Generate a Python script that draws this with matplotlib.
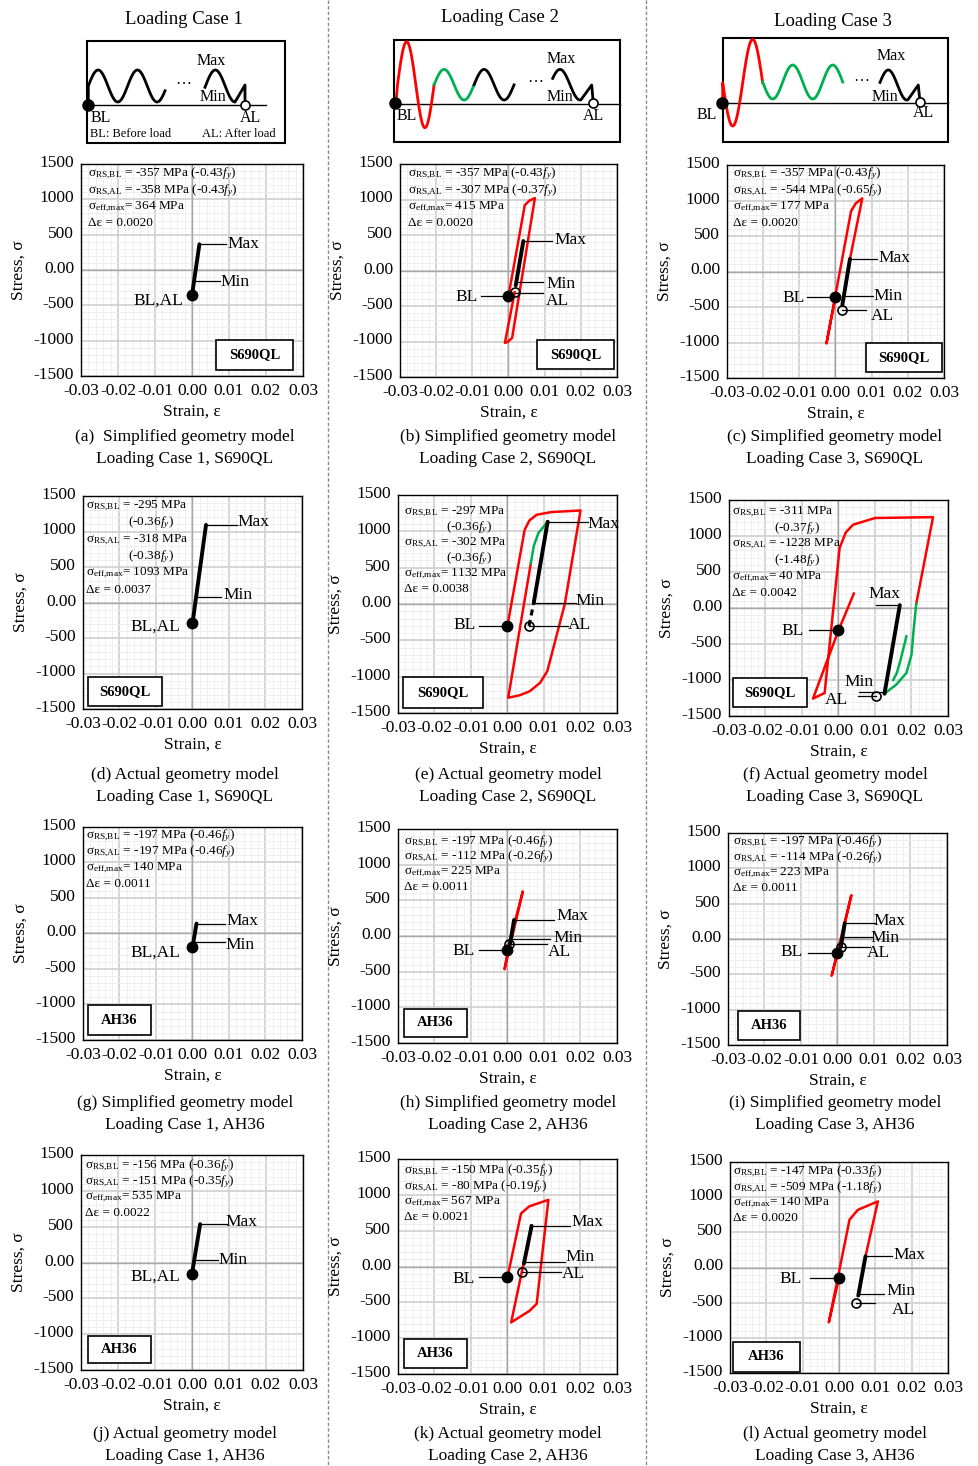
import numpy as np
import matplotlib
matplotlib.use('Agg')
import matplotlib.pyplot as plt
import matplotlib.transforms as mtransforms
from matplotlib.patches import Rectangle

plt.rcParams['font.family'] = ['Liberation Serif', 'DejaVu Serif']
plt.rcParams['mathtext.fontset'] = 'custom'
plt.rcParams['mathtext.rm'] = 'Liberation Serif'
plt.rcParams['mathtext.it'] = 'Liberation Serif:italic'
plt.rcParams['mathtext.bf'] = 'Liberation Serif:bold'
plt.rcParams['axes.unicode_minus'] = False

# ---------------- data ----------------
panels = list('abcdefghijkl')
models = ['Simplified'] * 3 + ['Actual'] * 3 + ['Simplified'] * 3 + ['Actual'] * 3
cases = [1, 2, 3] * 4
materials = ['S690QL'] * 6 + ['AH36'] * 6

rs_bl = [-357, -357, -357, -295, -297, -311, -197, -197, -197, -156, -150, -147]
rs_bl_fy = ['-0.43', '-0.43', '-0.43', '-0.36', '-0.36', '-0.37',
            '-0.46', '-0.46', '-0.46', '-0.36', '-0.35', '-0.33']
rs_al = [-358, -307, -544, -318, -302, -1228, -197, -112, -114, -151, -80, -509]
rs_al_fy = ['-0.43', '-0.37', '-0.65', '-0.38', '-0.36', '-1.48',
            '-0.46', '-0.26', '-0.26', '-0.35', '-0.19', '-1.18']
eff_max = [364, 415, 177, 1093, 1132, 40, 140, 225, 223, 535, 567, 140]
d_eps = ['0.0020', '0.0020', '0.0020', '0.0037', '0.0038', '0.0042',
         '0.0011', '0.0011', '0.0011', '0.0022', '0.0021', '0.0020']
al_eps = [0.0, 0.0017, 0.0017, 0.0, 0.0059, 0.0104, 0.0, 0.0004, 0.0010, 0.0, 0.0039, 0.0048]

xticks = [-0.03, -0.02, -0.01, 0.0, 0.01, 0.02, 0.03]
xtick_labels = ['-0.03', '-0.02', '-0.01', '0.00', '0.01', '0.02', '0.03']
yticks = [-1500, -1000, -500, 0, 500, 1000, 1500]
ytick_labels = ['-1500', '-1000', '-500', '0.00', '500', '1000', '1500']

# first cycle (red), strain / stress
red_b = [[0.0, 0.0045, 0.0058, 0.0073, 0.0010, -0.0002, -0.0010, 0.0017],
         [-357, 920, 985, 1020, -950, -1005, -1020, -307]]
red_c = [[0.0, -0.0025, 0.0043, 0.0056, 0.0074, 0.0040],
         [-357, -1014, 850, 960, 1030, 177]]
red_e = [[0.0, 0.0047, 0.0060, 0.0080, 0.0120, 0.0200, 0.0157, 0.0109, 0.0089, 0.0061, 0.0034, 0.0002, 0.0064],
         [-297, 1021, 1150, 1228, 1265, 1287, 0, -925, -1086, -1200, -1255, -1290, 563]]
red_f = [[0.0042, 0.0, -0.0070, -0.0038, 0.0003, 0.0020, 0.0040, 0.0100, 0.0259, 0.0213],
         [200, -311, -1259, -1180, 833, 1050, 1157, 1250, 1262, 60]]
red_h = [[0.0, 0.0042, -0.0008, 0.0004], [-197, 625, -465, -112]]
red_i = [[0.0, -0.0016, 0.0038, 0.0020], [-197, -520, 620, 223]]
red_k = [[0.0, 0.0037, 0.0060, 0.0112, 0.0080, 0.0060, 0.0010, 0.0039, 0.0066],
         [-150, 740, 840, 930, -520, -620, -780, -80, 567]]
red_l = [[0.0, -0.0028, 0.0029, 0.0052, 0.0107, 0.0073],
         [-147, -780, 680, 820, 940, 160]]

# intermediate cycles (green)
grn_e = [[0.0064, 0.0072, 0.0085, 0.0110], [563, 800, 980, 1132]]
grn_f = [[0.0213, 0.0205, 0.0200, 0.0186, 0.0158, 0.0126], [60, -350, -648, -903, -1065, -1190]]
grn_f2 = [[0.0186, 0.0169, 0.0160, 0.0150], [-394, -741, -900, -1000]]

# stabilised cycle Min-Max (black)
blk_a = [[0.0, 0.0020], [-357, 364]]
blk_b = [[0.0020, 0.0041], [-210, 415]]
blk_c = [[0.0040, 0.0019], [177, -470]]
blk_d = [[0.0, 0.0037], [-295, 1093]]
blk_e = [[0.0072, 0.0110], [20, 1132]]
blk_f = [[0.0126, 0.0168], [-1190, 40]]
blk_g = [[0.0, 0.0011], [-197, 140]]
blk_h = [[0.0007, 0.0018], [-110, 225]]
blk_i = [[0.0020, 0.0009], [223, -114]]
blk_j = [[0.0, 0.0022], [-156, 535]]
blk_k = [[0.0045, 0.0066], [40, 567]]
blk_l = [[0.0073, 0.0053], [160, -400]]
dsh_e = [[0.0059, 0.0072], [-302, 20]]

reds = {'b': red_b, 'c': red_c, 'e': red_e, 'f': red_f, 'h': red_h, 'i': red_i, 'k': red_k, 'l': red_l}
greens = {'e': [grn_e], 'f': [grn_f, grn_f2]}
blacks = {'a': blk_a, 'b': blk_b, 'c': blk_c, 'd': blk_d, 'e': blk_e, 'f': blk_f,
          'g': blk_g, 'h': blk_h, 'i': blk_i, 'j': blk_j, 'k': blk_k, 'l': blk_l}

# leader lines (x0, x1, y) and labels (text, x, y)
leaders = {
    'a': [(0.0020, 0.0093, 364), (0.0006, 0.0075, -150)],
    'b': [(-0.0075, 0, -357), (0.0041, 0.0119, 415), (0.0022, 0.0096, -161), (0.0017, 0.0096, -318)],
    'c': [(-0.0079, 0, -357), (0.0040, 0.0116, 177), (0.0024, 0.0104, -348), (0.0017, 0.0083, -544)],
    'd': [(0.0037, 0.0123, 1093), (0.0010, 0.0079, 71)],
    'e': [(-0.0078, 0, -297), (0.0110, 0.0221, 1132), (0.0072, 0.0189, 20), (0.0059, 0.0166, -302)],
    'f': [(-0.0081, 0, -311), (0.0104, 0.0168, 40), (0.0056, 0.0126, -1171), (0.0053, 0.0104, -1228)],
    'g': [(0.0011, 0.0088, 140), (0.0003, 0.0088, -125)],
    'h': [(-0.0078, 0, -197), (0.0018, 0.0128, 225), (0.0008, 0.0117, -44), (0.0004, 0.0108, -117)],
    'i': [(-0.0082, 0, -197), (0.0020, 0.0102, 223), (0.0013, 0.0095, 30), (0.0010, 0.0088, -114)],
    'j': [(0.0022, 0.0094, 535), (0.0006, 0.0071, 33)],
    'k': [(-0.0078, 0, -150), (0.0066, 0.0172, 567), (0.0045, 0.0158, 58), (0.0039, 0.0146, -80)],
    'l': [(-0.0081, 0, -147), (0.0073, 0.0147, 160), (0.0055, 0.0125, -371), (0.0048, 0.0100, -509)],
}
labels = {
    'a': [('Max', 0.0138, 375), ('Min', 0.0115, -164), ('BL,AL', -0.0090, -431)],
    'b': [('BL', -0.0116, -375), ('Max', 0.0171, 425), ('Min', 0.0144, -195), ('AL', 0.0134, -425)],
    'c': [('BL', -0.0116, -372), ('Max', 0.0164, 184), ('Min', 0.0145, -348), ('AL', 0.0130, -628)],
    'd': [('Max', 0.0167, 1138), ('Min', 0.0126, 100), ('BL,AL', -0.0101, -341)],
    'e': [('BL', -0.0117, -290), ('Max', 0.0262, 1100), ('Min', 0.0227, 46), ('AL', 0.0196, -284)],
    'f': [('BL', -0.0125, -320), ('Max', 0.0127, 195), ('Min', 0.0056, -1032), ('AL', -0.0006, -1273)],
    'g': [('Max', 0.0137, 181), ('Min', 0.0129, -167), ('BL,AL', -0.0101, -265)],
    'h': [('BL', -0.0121, -204), ('Max', 0.0179, 282), ('Min', 0.0167, -34), ('AL', 0.0142, -228)],
    'i': [('BL', -0.0126, -184), ('Max', 0.0142, 255), ('Min', 0.0129, 14), ('AL', 0.0112, -198)],
    'j': [('Max', 0.0134, 560), ('Min', 0.0112, 33), ('BL,AL', -0.0100, -195)],
    'k': [('BL', -0.0121, -169), ('Max', 0.0220, 619), ('Min', 0.0199, 135), ('AL', 0.0181, -106)],
    'l': [('BL', -0.0134, -164), ('Max', 0.0194, 173), ('Min', 0.0171, -332), ('AL', 0.0176, -607)],
}

# ---------------- layout (pixels) ----------------
W, H = 979, 1466
ax_px = {'a': (81, 164, 303, 376), 'b': (400, 164, 617, 377), 'c': (727, 165, 944, 378),
         'd': (83, 496, 302, 709), 'e': (398, 495, 617, 713), 'f': (729, 500, 948, 716),
         'g': (83, 827, 302, 1040), 'h': (398, 829, 617, 1043), 'i': (728, 833, 947, 1045),
         'j': (81, 1155, 303, 1370), 'k': (398, 1159, 617, 1374), 'l': (730, 1162, 948, 1373)}
mat_px = {'a': (216, 340, 293, 370), 'b': (537, 340, 614, 369), 'c': (866, 343, 942, 372),
          'd': (88, 677, 162, 706), 'e': (403, 677, 483, 708), 'f': (733, 678, 807, 707),
          'g': (88, 1005, 151, 1035), 'h': (404, 1009, 467, 1037), 'i': (738, 1011, 800, 1040),
          'j': (88, 1336, 151, 1363), 'k': (404, 1339, 467, 1368), 'l': (733, 1342, 800, 1372)}
note_px = {'a': (88, 174, 16.5), 'b': (408, 174, 16.5), 'c': (733, 174, 16.5),
           'd': (86, 506, 16.8), 'e': (404, 512, 15.4), 'f': (732, 512, 16.2),
           'g': (86, 836, 16.0), 'h': (404, 842, 15.0), 'i': (733, 842, 15.3),
           'j': (85, 1166, 15.7), 'k': (404, 1171, 15.3), 'l': (733, 1172, 15.3)}
col_cx = [185, 508, 835]
cap_y = [437, 775, 1103, 1434]

fig = plt.figure(figsize=(W / 100, H / 100), dpi=100)
bg = fig.add_axes([0, 0, 1, 1])
bg.set_xlim(0, W)
bg.set_ylim(H, 0)
bg.axis('off')

# column separators
for xs in (328, 646):
    bg.plot([xs, xs], [0, H], color='#8c8c8c', lw=1.0, ls=(0, (2.5, 1.5)))


def sine(xa, xb, x0, yc, amp, per, sign=-1):
    x = np.linspace(xa, xb, 120)
    return x, yc + sign * amp * np.sin(2 * np.pi * (x - x0) / per)


# ---- loading case schematics ----
bg.text(184, 20, 'Loading Case 1', ha='center', va='center', fontsize=13.5)
bg.text(500, 18, 'Loading Case 2', ha='center', va='center', fontsize=13.5)
bg.text(833, 22, 'Loading Case 3', ha='center', va='center', fontsize=13.5)

sk = dict(fontsize=11.5, ha='center', va='center')
# case 1
bg.add_patch(Rectangle((87, 41), 198, 102, fill=False, lw=1.5, ec='black'))
bg.plot([87, 266], [105, 105], color='black', lw=1.0)
x, y = sine(88.3, 165, 88.3, 86, 16, 39.3)
bg.plot(np.r_[88.3, x], np.r_[105, y], color='black', lw=2.0)
x, y = sine(205, 235, 205.5, 86, 16, 39.3)
bg.plot(np.r_[x, 245, 245], np.r_[y, 85, 105], color='black', lw=2.0)
bg.plot(88, 105, 'o', color='black', ms=8, zorder=5)
bg.plot(245, 105, 'o', mfc='white', mec='black', ms=6.5, mew=1.2, zorder=5)
bg.text(183, 80, '…', **sk)
bg.text(211, 61, 'Max', **sk)
bg.text(213, 97, 'Min', **sk)
bg.text(101, 118, 'BL', **sk)
bg.text(250, 118, 'AL', **sk)
bg.text(90, 134, 'BL: Before load', fontsize=9, ha='left', va='center')
bg.text(202, 134, 'AL: After load', fontsize=9, ha='left', va='center')

# case 2
bg.add_patch(Rectangle((394, 40), 226, 102, fill=False, lw=1.5, ec='black'))
bg.plot([394, 620], [104.3, 104.3], color='black', lw=1.0)
x, y = sine(397.5, 434.1, 397.5, 84.7, 43, 36.6)
bg.plot(np.r_[396, x], np.r_[102, y], color='red', lw=2.0)
x, y = sine(434.1, 474.1, 434.1, 84.7, 15.3, 40)
bg.plot(x, y, color='#00b050', lw=2.0)
x, y = sine(474.1, 514, 434.1, 84.7, 15.3, 40)
bg.plot(x, y, color='black', lw=2.0)
x, y = sine(552.7, 581, 550, 84.7, 15.3, 40)
bg.plot(np.r_[x, 591.7, 593.3], np.r_[y, 85, 103], color='black', lw=2.0)
bg.plot(395, 103, 'o', color='black', ms=8, zorder=5)
bg.plot(593.3, 103, 'o', mfc='white', mec='black', ms=6.5, mew=1.2, zorder=5)
bg.text(535, 78, '…', **sk)
bg.text(561.7, 59.3, 'Max', **sk)
bg.text(560, 97.3, 'Min', **sk)
bg.text(406.7, 116, 'BL', **sk)
bg.text(593.3, 116, 'AL', **sk)

# case 3
bg.add_patch(Rectangle((723.3, 38.3), 224.4, 103.4, fill=False, lw=1.5, ec='black'))
bg.plot([723.3, 947.7], [103.3, 103.3], color='black', lw=1.0)
x, y = sine(722.7, 762.7, 722.7, 82.7, 43.3, 40, sign=1)
bg.plot(np.r_[722.7, x], np.r_[102.7, y], color='red', lw=2.0)
x, y = sine(762.7, 842.7, 762.7, 82, 17, 40, sign=1)
bg.plot(x, y, color='#00b050', lw=2.0)
x, y = sine(880, 908, 879, 85, 15, 37)
bg.plot(np.r_[x, 918.3, 920], np.r_[y, 85, 102], color='black', lw=2.0)
bg.plot(722, 102.7, 'o', color='black', ms=8, zorder=5)
bg.plot(920, 102, 'o', mfc='white', mec='black', ms=6.5, mew=1.2, zorder=5)
bg.text(861.7, 77, '…', **sk)
bg.text(891.7, 56, 'Max', **sk)
bg.text(885, 97.3, 'Min', **sk)
bg.text(706.7, 115, 'BL', **sk)
bg.text(923.3, 112.7, 'AL', **sk)

# ---------------- stress-strain panels ----------------
lift = mtransforms.ScaledTranslation(0, 3 / 100, fig.dpi_scale_trans)
for i, p in enumerate(panels):
    l, t, r, b = ax_px[p]
    ax = fig.add_axes([l / W, 1 - b / H, (r - l) / W, (b - t) / H])
    ax.set_xlim(-0.03, 0.03)
    ax.set_ylim(-1500, 1500)
    ax.set_xticks(xticks)
    ax.set_xticklabels(xtick_labels)
    ax.set_yticks(yticks)
    ax.set_yticklabels(ytick_labels)
    ax.set_xticks(np.arange(-0.03, 0.0301, 0.002), minor=True)
    ax.set_yticks(np.arange(-1500, 1501, 100), minor=True)
    ax.tick_params(which='both', length=0, labelsize=12.5)
    ax.tick_params(axis='x', pad=5)
    ax.tick_params(axis='y', pad=5)
    for lab in ax.get_yticklabels():
        lab.set_transform(lab.get_transform() + lift)
    ax.grid(which='minor', color='#ececec', lw=0.6)
    ax.grid(which='major', color='#d2d2d2', lw=1.3)
    ax.set_axisbelow(True)
    ax.axhline(0, color='#a6a6a6', lw=1.0, zorder=1)
    ax.axvline(0, color='#a6a6a6', lw=1.0, zorder=1)
    for s in ax.spines.values():
        s.set_linewidth(1.0)

    if p in reds:
        ax.plot(reds[p][0], reds[p][1], color='red', lw=1.8, solid_joinstyle='round', zorder=3)
    for g in greens.get(p, []):
        ax.plot(g[0], g[1], color='#00b050', lw=1.8, solid_joinstyle='round', zorder=3)
    ax.plot(blacks[p][0], blacks[p][1], color='black', lw=2.8, solid_capstyle='round', zorder=4)
    if p == 'e':
        ax.plot(dsh_e[0], dsh_e[1], color='black', lw=2.2, ls=(0, (2, 1.5)), zorder=4)

    for x0, x1, yy in leaders[p]:
        ax.plot([x0, x1], [yy, yy], color='black', lw=0.9, zorder=5)
    for txt, tx, ty in labels[p]:
        ax.text(tx, ty, txt, ha='center', va='center', fontsize=12.5, zorder=6)

    ax.plot(0, rs_bl[i], 'o', color='black', ms=7.5, zorder=7)
    if p not in 'adgj':
        ax.plot(al_eps[i], rs_al[i], 'o', mfc='none', mec='black', ms=6.5, mew=1.2, zorder=7)

    def fx(px):
        return (px - l) / (r - l)

    def fy(py):
        return (b - py) / (b - t)

    # material box
    ml, mt, mr, mb = mat_px[p]
    ax.add_patch(Rectangle((fx(ml), fy(mb)), fx(mr) - fx(ml), fy(mt) - fy(mb),
                           transform=ax.transAxes, fill=True, fc='white', ec='black', lw=1.2, zorder=8))
    ax.text((fx(ml) + fx(mr)) / 2, (fy(mt) + fy(mb)) / 2, materials[i], transform=ax.transAxes,
            ha='center', va='center', fontsize=10.5, fontweight='bold', zorder=9)

    # residual stress notes
    nx, ny, dy = note_px[p]
    if p in 'def':
        lines = [(0, 'σ$_{\\rm RS{,}BL}$ = %d MPa' % rs_bl[i]),
                 (42, '(%s$f_y$)' % rs_bl_fy[i]),
                 (0, 'σ$_{\\rm RS{,}AL}$ = %d MPa' % rs_al[i]),
                 (42, '(%s$f_y$)' % rs_al_fy[i]),
                 (0, 'σ$_{\\rm eff{,}max}$= %d MPa' % eff_max[i]),
                 (0, 'Δε = %s' % d_eps[i])]
    else:
        lines = [(0, 'σ$_{\\rm RS{,}BL}$ = %d MPa (%s$f_y$)' % (rs_bl[i], rs_bl_fy[i])),
                 (0, 'σ$_{\\rm RS{,}AL}$ = %d MPa (%s$f_y$)' % (rs_al[i], rs_al_fy[i])),
                 (0, 'σ$_{\\rm eff{,}max}$= %d MPa' % eff_max[i]),
                 (0, 'Δε = %s' % d_eps[i])]
    for k, (ind, s) in enumerate(lines):
        ax.text(fx(nx + ind), fy(ny + k * dy), s, transform=ax.transAxes,
                ha='left', va='center', fontsize=9.5, zorder=6)

    # axis titles
    bg.text(l - 62, (t + b) / 2, 'Stress, σ', rotation=90, ha='center', va='center', fontsize=12.5)
    bg.text((l + r) / 2, b + 36, 'Strain, ε', ha='center', va='center', fontsize=12.5)

    # caption
    col, row = i % 3, i // 3
    sep = '  ' if p == 'a' else ' '
    bg.text(col_cx[col], cap_y[row], '(%s)%s%s geometry model' % (p, sep, models[i]),
            ha='center', va='center', fontsize=12.5)
    bg.text(col_cx[col], cap_y[row] + 22, 'Loading Case %d, %s' % (cases[i], materials[i]),
            ha='center', va='center', fontsize=12.5)

fig.savefig('out.png', dpi=100)
